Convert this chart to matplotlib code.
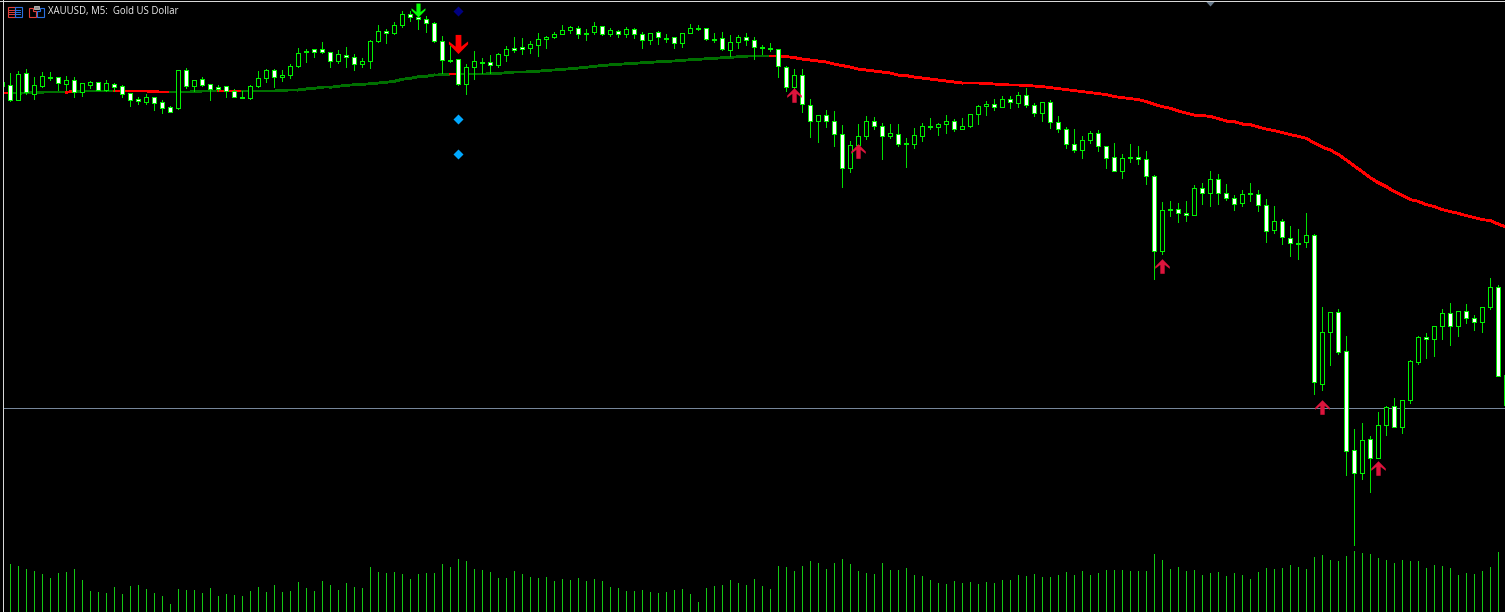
import matplotlib
matplotlib.use("Agg")
import matplotlib.pyplot as plt
from matplotlib.path import Path
from matplotlib.patches import Rectangle, Polygon
import numpy as np

W, H = 1505, 612

# candle body / wick rows (smaller = higher price)
body_top = [83,
    86,74.5,74,86,77,77.5,78,81,81,84,
    83,83,84,85,87,94,100,98,98,103,
    108,71,71,81,80,85,87.5,87,92,97.5,
    87,79,71,71,76,67,54,52,50,50,
    53,55,56,58,62,42,32,32,26,15,
    15,17.5,20,24,42,60.5,60,68,62,62.5,
    63,55,50,49,48,45,40,38,35,31,
    28,29,34,27,27,31,32,30,30,35,
    34,33,38.5,38,34,29,29,29,39.5,39,
    43,38,38,41,48,49,50,68,76,76,
    106,116,116,122,135,146,137,122,122,127,
    134,135,144,136,127,127,125,122,122,127,
    115,107,105,105,100,100,96,96,106,103,
    103,123,130,145,141,134,134,147,158,159,
    158,158,160,177,211,210,210,214,189,189,
    180,180,194,199,195,194,195,206,222,222,
    239,244,236,236,333,313,313,352,451,441,
    440,426,408,407,401,362,338,338,327,314,
    314,312,312,319,308,288,288,376]
body_bot = [87,
    100.5,100.5,92.5,95,87,78.5,84,85,93,93,
    86,91,91,87.5,95,101,102,103,104,109,
    113,109,87,87,86,90,90,92,98,98.5,
    99,87,79,78,78,76,67,53,52.5,53,
    62,62,58,65,65,62,42,34,34,26,
    17.5,19.5,24,42,61,61.5,84.5,84.5,68,63.5,
    66,66,56,50.5,49.5,49,46,40,38,35,
    31,35,35,33,35,35,35,35,35,41,
    41,38,39.5,44,44,34,30,40,40.5,50,
    51,43,41,48,49,50,67,88,88,105,
    122,122,122,135,169,169,146,137,127,137,
    137,145,145,145,137,128,128,125,130,130,
    127,115,107,108,108,103,104,106,114,114,
    123,130,145,151,151,141,147,159,172,172,
    159,160,177,252,252,211,214,216,216,194,
    194,194,199,205,204,195,206,232,231,238,
    244,245,243,383,385,333,353,452,474,474,
    459,459,426,428,428,401,363,340,340,327,
    327,327,319,323,323,308,377,406]
wick_hi = [83,
    74,72,70,78,73,73,78,77,78,84,
    82,83,81,84,86,94,98,95,98,101,
    107,71,69,81,78,85,86,87,90,92,
    86,72,70,70,71,65,49,50,50,43,
    53,51,48,55,59,41,26,30,23,12,
    12,12,17,23,37,47,60,65,52,59,
    56,54,47,38,39,42,34,37,33,26,
    27,27,30,23,27,29,31,28,29,33,
    34,32,35,38,34,25,26,29,34,33,
    36,36,34,38,46,44,50,67,70,70,
    100,116,111,112,126,142,125,117,118,124,
    125,125,139,129,124,119,124,116,120,119,
    115,106,102,100,97,97,93,89,104,103,
    101,117,128,130,137,132,131,147,144,155,
    145,147,152,176,203,202,204,202,186,184,
    172,175,185,196,191,184,191,200,207,220,
    227,230,214,235,308,313,310,337,430,424,
    437,413,407,399,401,361,337,334,327,310,
    304,312,305,316,308,279,286,376]
wick_lo = [87,
    101.5,100.5,95,100,88,81,91,91,98,97,
    89,91,92,92,98,107,105,105,111,114,
    113,110,89,92,87,101,92,98,98,98.5,
    100,88,83,88,82,79,68,63,58,54,
    68,64,68,71,68,69,43,44,35,28,
    22,30,33,43,74,63,86,95,80,74,
    74,68,62,53,55,54,57,49,39,35,
    34,39,41,35,36,37,38,38,39,49,
    45,45,43,49,48,34,31,41,43,51,
    57,49,46,60,55,52,78,92,89,113,
    138,143,128,147,188,173,147,140,130,160,
    139,147,168,149,142,130,136,134,132,130,
    128,125,116,111,108,109,108,108,117,122,
    129,133,149,153,159,144,152,169,172,179,
    163,165,185,280,255,217,223,222,216,205,
    207,205,201,211,207,202,212,243,234,245,
    257,260,248,395,391,366,355,476,546,480,
    493,459,436,428,434,404,365,359,357,340,
    346,337,324,331,333,310,377,406]
# W = falling candle (white body), H = rising candle (hollow)
candle_kind = ("W"
    "WHWHHWWHWH" "HWHWWWWHWW" "WHWHWWWWWW" "HHHWHHHWWW" "WHWWHHHWHH"
    "WWWWWWWHHW" "WHHWWHHHHH" "HWWHWHWHWW" "HWWWHHWWWW" "HHWWWWWWHW"
    "WHWWWHHHWW" "HWWHHWHHWH" "HHHWHWHWWH" "WWWWHHWWWH" "WWWWHWWWHW"
    "HWWWHWWWHW" "WWHWHHWWWH" "WHHWHHHWHH" "WHWWHHWW")

ma_line = [94,94,94,93.5,93.3,93,93,93,93,92,91.7,
    91.7,91.7,91.7,91.7,91.7,91.7,91.7,91.7,92.5,92.7,
    92.7,92.7,92.7,92.5,91.7,91.7,91.7,91.7,91.7,91.7,
    91.7,91.7,91.7,91.7,91,90.7,90.7,89.7,89,88,
    88,87,86,85.5,85,84.5,83.7,83,82,80,
    79,77.5,77,75.7,75.5,74.7,74.7,74.7,74.7,74.7,
    74.5,74,73.5,72.7,72.7,72.5,72,71,70.7,70,
    69.5,68.7,68,67,66.3,65.5,65,64.5,64,63.5,
    63,62.5,62,61.7,61,60.5,60,59.5,59,58.5,
    58,57.5,57,57,57,57,57,57.3,58.3,59.7,
    60.7,61.7,62.7,64.7,66.3,67.7,69.7,70.7,71.7,72.7,
    73.7,75.7,76.3,77.7,78.7,79.7,80.7,81.7,82.7,83.7,
    83.7,83.7,84.3,84.7,85.3,85.7,85.7,86.3,86.7,87.3,
    88.3,89.3,90.3,91.3,92.3,93.3,94.3,95.3,97.3,98.3,
    99.3,100.3,102.3,105,107.3,109,111.7,113.7,115.7,116.3,
    117,119.3,121.7,122.3,124.7,125.3,127.7,129.7,131.3,133.3,
    135.3,137,139,143.7,147.7,150.7,155,160.7,166.7,172.3,
    178.3,183.3,187.3,192.3,196,200.3,202,205.3,207.3,210.3,
    212.3,214,216.3,218.3,220.3,221.3,224.7,227.7]
# bar ranges where the average is drawn red
ma_red_spans = [(0, 1), (8, 9), (14, 21), (27, 30), (56, 57), (96, 188)]

# volume heights, first value belongs to bar 1
volumes = [48,46,43,41,38,34,39,40,43,32,
    21,20,19,25,18,26,27,23,19,16,
    8,23,22,22,19,24,16,18,17,16,
    21,25,20,27,20,21,30,24,21,31,
    27,22,29,25,24,45,40,39,40,38,
    33,38,39,39,48,45,53,51,43,42,
    40,34,34,41,38,35,34,35,31,33,
    32,34,31,33,31,25,24,21,21,22,
    20,19,20,22,23,18,10,24,26,27,
    32,29,27,33,26,23,46,45,41,46,
    51,49,43,49,53,48,41,39,38,49,
    42,42,44,37,36,32,29,28,31,29,
    30,28,30,29,32,32,37,36,38,35,
    35,37,40,37,41,37,39,42,42,42,
    41,41,41,58,52,43,45,41,42,37,
    39,40,36,39,37,33,40,44,43,44,
    47,45,43,55,57,52,51,56,61,59,
    58,54,52,49,52,51,51,44,47,46,
    44,37,39,38,41,45,60]

up_arrow_bars = [99, 107, 145, 165, 172]
up_arrow_rows = [96, 151.5, 266.5, 408, 468.5]
blue_diamond_rows = [119.5, 154.5]
signal_bar = 57
current_price_row = 408

bars = np.arange(len(body_top))
fig = plt.figure(figsize=(W/100, H/100), dpi=100, facecolor="black")

# bar n sits at pixel 2.2 + 8n, rows run downward
ax = fig.add_axes([3/W, 0, (W-3)/W, (H-1)/H])
ax.set_xlim((3-2.2)/8, (W-2.2)/8)
ax.set_ylim(H+0.7, 1.7)
ax.set_facecolor("black")
ax.axis("off")

ax.axhline(current_price_row + 0.5, color="#76869a", lw=0.7, aa=False, zorder=1)

# moving average, one segment at a time
for k in range(len(ma_line)-1):
    red = any(a <= k < b for a, b in ma_red_spans)
    ax.plot(bars[k:k+2], ma_line[k:k+2], color="#ff0000" if red else "#007000",
            lw=1.3, aa=False, solid_capstyle="projecting", zorder=2)

# candles
ax.vlines(bars, wick_hi, wick_lo, color="#00e000", lw=0.7, antialiased=False, zorder=3)
faces = ["white" if c == "W" else "black" for c in candle_kind]
ax.bar(bars, np.array(body_bot)-np.array(body_top), bottom=body_top, width=0.5,
       color=faces, edgecolor="#00f000", linewidth=0.7, antialiased=False, zorder=4)

# signal arrows
arrow_up = Path([(0,1),(1,-0.02),(1,-0.32),(0.3,0.22),(0.3,-1),(-0.3,-1),(-0.3,0.22),(-1,-0.32),(-1,-0.02),(0,1)], closed=True)
arrow_down = Path(arrow_up.vertices*[1,-1], closed=True)
ax.plot(up_arrow_bars, up_arrow_rows, ls="none", marker=arrow_up, ms=10.5,
        color="#dc143c", mec="none", zorder=6)
ax.plot([signal_bar], [44.5], ls="none", marker=arrow_down, ms=13.8, color="#ff0000", mec="none", zorder=6)
ax.plot([52], [10.5], ls="none", marker=arrow_down, ms=10, color="#00ff00", mec="none", zorder=6)
ax.plot([signal_bar], [11.5], ls="none", marker="D", ms=5.5, color="#000080", mec="none", zorder=6)
ax.plot([signal_bar]*2, blue_diamond_rows, ls="none", marker="D", ms=4.6, color="#00a8ff", mec="none", zorder=6)

# volume panel
vol = fig.add_axes([3/W, 0, (W-3)/W, 1], facecolor="none")
vol.set_xlim(ax.get_xlim())
vol.set_ylim(0, H)
vol.axis("off")
vol.vlines(bars[1:len(volumes)+1], 0, volumes, color="#14c814", lw=0.7, antialiased=False)

# window furniture in pixel coordinates
ov = fig.add_axes([0, 0, 1, 1], facecolor="none")
ov.set_xlim(0, W)
ov.set_ylim(H, 0)
ov.axis("off")
ov.plot([2.5, 2.5], [0, H], color="#d8d8d8", lw=0.7, aa=False)
ov.plot([0, W], [0.5, 0.5], color="#d8d8d8", lw=0.7, aa=False)
ov.add_patch(Polygon([(1205.5, 1), (1215.5, 1), (1210.5, 6.5)], color="#66788a", lw=0))

ov.add_patch(Rectangle((7.5, 6.5), 7, 10, fc="none", ec="#e0403a", lw=0.8))
ov.add_patch(Rectangle((14.5, 6.5), 7, 10, fc="none", ec="#2a70e0", lw=0.8))
for row in (9.5, 11.5, 13.5):
    ov.plot([9, 14], [row, row], color="#e0403a", lw=0.7)
    ov.plot([15, 20], [row, row], color="#2a70e0", lw=0.7)
ov.add_patch(Polygon([(28.5, 7.5), (32.5, 7.5), (32.5, 10.5), (35.5, 10.5), (35.5, 16.5), (28.5, 16.5)], fc="none", ec="#e0403a", lw=0.8))
ov.add_patch(Polygon([(39.5, 7.5), (43.5, 7.5), (43.5, 16.5), (36.5, 16.5), (36.5, 10.5), (39.5, 10.5)], fc="none", ec="#2a70e0", lw=0.8))
ov.add_patch(Rectangle((33.5, 5.5), 5, 3, fc="#909090", ec="#c0c0c0", lw=0.6))

ov.text(48, 11.5, "XAUUSD, M5:  Gold US Dollar", color="#eeeeee", fontsize=6.9,
        family="Open Sans", ha="left", va="center")

fig.savefig("out.png", dpi=100, facecolor="black")
